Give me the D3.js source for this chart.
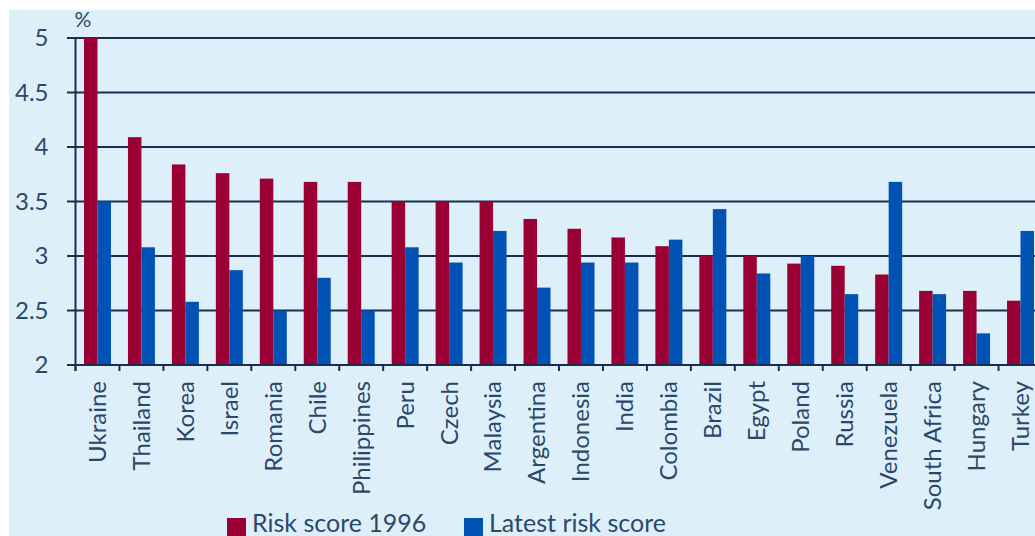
<!DOCTYPE html>
<html>
<head>
<meta charset="utf-8">
<script src="https://cdn.jsdelivr.net/npm/d3@7"></script>
<style>
  html, body { margin: 0; padding: 0; background: #ffffff; }
  svg { display: block; }
  text { font-family: Lato, "Open Sans", sans-serif; fill: #2c4868; }
</style>
</head>
<body>
<svg id="chart" width="1035" height="536"></svg>
<script>
// Country risk scores, 1996 vs latest
const countries = ["Ukraine", "Thailand", "Korea", "Israel", "Romania", "Chile", "Philippines",
  "Peru", "Czech", "Malaysia", "Argentina", "Indonesia", "India", "Colombia", "Brazil",
  "Egypt", "Poland", "Russia", "Venezuela", "South Africa", "Hungary", "Turkey"];
const risk1996 = [5.0, 4.09, 3.84, 3.76, 3.71, 3.68, 3.68, 3.5, 3.5, 3.5, 3.34, 3.25, 3.17,
  3.09, 3.0, 3.0, 2.93, 2.91, 2.83, 2.68, 2.68, 2.59];
const riskLatest = [3.5, 3.08, 2.58, 2.87, 2.5, 2.8, 2.5, 3.08, 2.94, 3.23, 2.71, 2.94, 2.94,
  3.15, 3.43, 2.84, 3.0, 2.65, 3.68, 2.65, 2.29, 3.23];
const seriesNames = ["Risk score 1996", "Latest risk score"];
const yTicks = [2, 2.5, 3, 3.5, 4, 4.5, 5];

const colors = { "Risk score 1996": "#990033", "Latest risk score": "#0052b4" };
const gridColor = "#1b2e4e";

const svg = d3.select("#chart");

// panel background
svg.append("rect").attr("x", 9).attr("y", 10).attr("width", 1026).attr("height", 526)
  .attr("fill", "#ddf0fa");

const plot = { left: 75.5, right: 1042.5, top: 38, bottom: 365 };

const x0 = d3.scaleBand().domain(countries).range([plot.left, plot.right]).padding(0);
const step = x0.step();
const x1 = d3.scaleBand().domain(seriesNames)
  .range([step * 0.193, step * (1 - 0.193)]).padding(0);
const y = d3.scaleLinear().domain([2, 5]).range([plot.bottom, plot.top]);

// horizontal gridlines
svg.append("g").selectAll("line").data(yTicks).join("line")
  .attr("x1", 67).attr("x2", 1035)
  .attr("y1", d => y(d)).attr("y2", d => y(d))
  .attr("stroke", gridColor).attr("stroke-width", 2);

// bars
const rows = countries.map((c, i) => ({ country: c, values: [
  { key: seriesNames[0], value: risk1996[i] },
  { key: seriesNames[1], value: riskLatest[i] }
]}));

svg.append("g").selectAll("g").data(rows).join("g")
  .attr("transform", d => `translate(${x0(d.country)},0)`)
  .selectAll("rect").data(d => d.values).join("rect")
  .attr("x", d => x1(d.key))
  .attr("width", x1.bandwidth())
  .attr("y", d => y(d.value))
  .attr("height", d => y(2) - y(d.value))
  .attr("fill", d => colors[d.key]);

// y axis
const yAxis = d3.axisLeft(y).tickValues(yTicks).tickFormat(d3.format("")).tickSize(0).tickPadding(27);
const gy = svg.append("g").attr("transform", `translate(${plot.left},0)`).call(yAxis);
gy.select(".domain").remove();
gy.selectAll("text").attr("font-size", 24).style("font-family", "Lato, sans-serif")
  .attr("fill", "#2c4868");
svg.append("line").attr("x1", plot.left).attr("x2", plot.left)
  .attr("y1", plot.top).attr("y2", plot.bottom + 6)
  .attr("stroke", gridColor).attr("stroke-width", 2);

// x axis baseline and category boundary ticks
svg.append("line").attr("x1", 67).attr("x2", 1035)
  .attr("y1", plot.bottom).attr("y2", plot.bottom)
  .attr("stroke", gridColor).attr("stroke-width", 2);
const bounds = countries.map(c => x0(c)).concat([plot.right]);
svg.append("g").selectAll("line").data(bounds).join("line")
  .attr("x1", d => d).attr("x2", d => d)
  .attr("y1", plot.bottom).attr("y2", plot.bottom + 6)
  .attr("stroke", gridColor).attr("stroke-width", 2);

// rotated category labels
svg.append("g").selectAll("text").data(countries).join("text")
  .attr("transform", d => `translate(${x0(d) + step / 2},${plot.bottom + 16}) rotate(-90)`)
  .attr("text-anchor", "end")
  .attr("dy", "0.35em")
  .attr("font-size", 24)
  .text(d => d);

// unit label
svg.append("text").attr("x", 83).attr("y", 27).attr("text-anchor", "middle")
  .attr("font-size", 21).text("%");

// legend
const legend = svg.append("g");
const legendItems = [
  { key: seriesNames[0], x: 227 },
  { key: seriesNames[1], x: 464 }
];
legend.selectAll("rect").data(legendItems).join("rect")
  .attr("x", d => d.x).attr("y", 518).attr("width", 19).attr("height", 18)
  .attr("fill", d => colors[d.key]);
legend.selectAll("text").data(legendItems).join("text")
  .attr("x", d => d.x + 25).attr("y", 532)
  .attr("font-size", 25)
  .text(d => d.key);
</script>
</body>
</html>
